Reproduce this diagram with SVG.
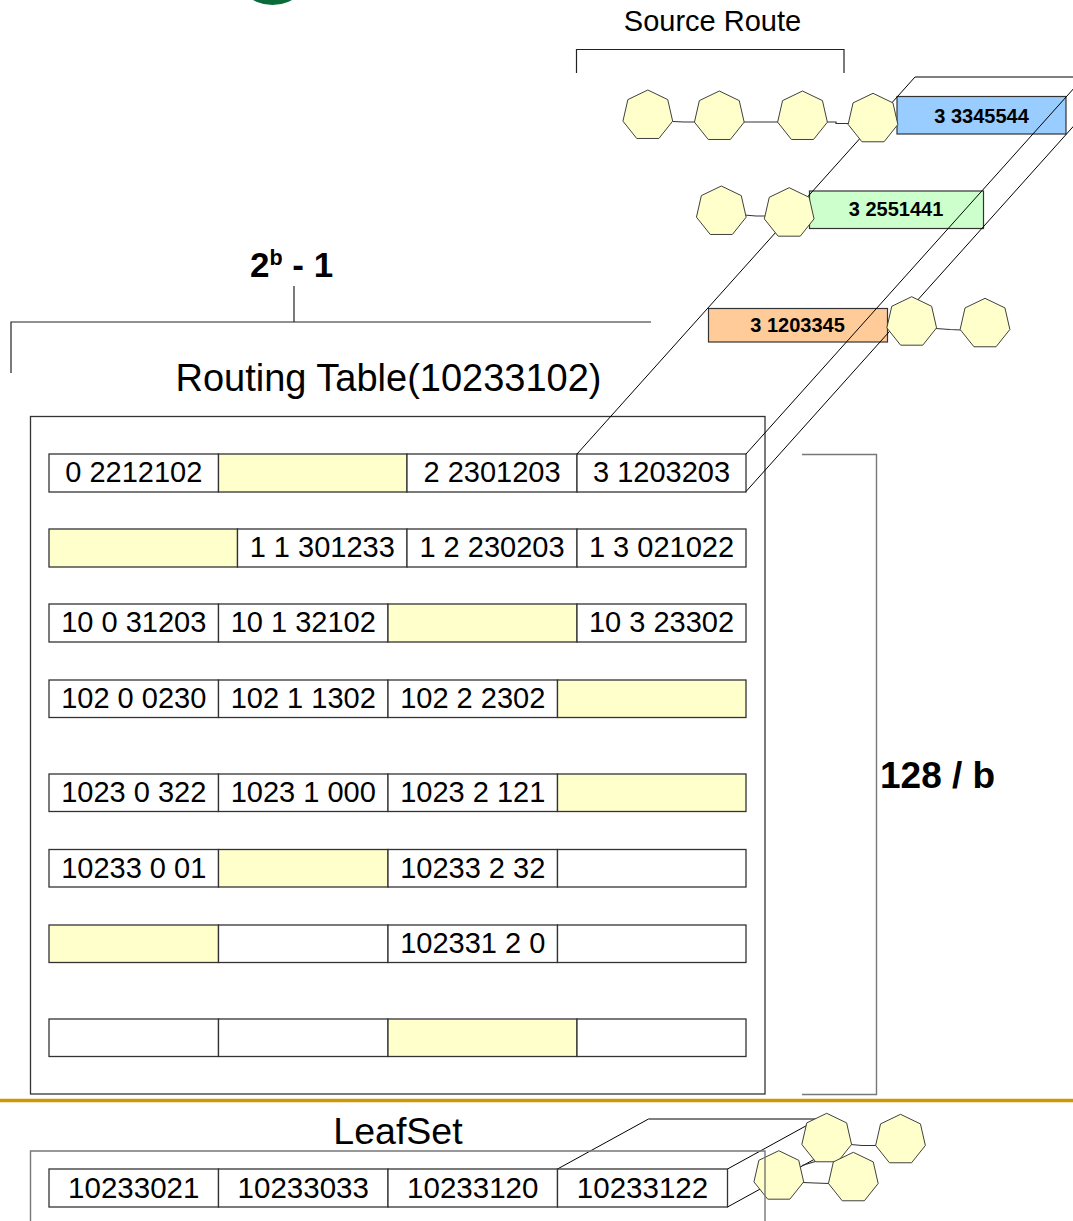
<svg xmlns="http://www.w3.org/2000/svg" width="1073" height="1221" viewBox="0 0 1073 1221">
  <style>
    .cell { fill: #ffffff; stroke: #333333; stroke-width: 1.3; }
    .free { fill: #FFFFCC; stroke: #333333; stroke-width: 1.3; }
    .t { font-family: "Liberation Sans", Arial, sans-serif; font-size: 29px; text-anchor: middle; fill: #000; }
    .lt { font-family: "Liberation Sans", Arial, sans-serif; font-size: 29.5px; text-anchor: middle; fill: #000; }
    .tb { font-family: "Liberation Sans", Arial, sans-serif; font-weight: bold; font-size: 20px; text-anchor: middle; fill: #000; }
    .title { font-family: "Liberation Sans", Arial, sans-serif; text-anchor: middle; fill: #000; }
    .big { font-family: "Liberation Sans", Arial, sans-serif; font-weight: bold; fill: #000; }
    .hept { fill: #FFFFCC; stroke: #404040; stroke-width: 1; }
    .wire { fill: none; stroke: #000; stroke-width: 1; }
    .link { fill: none; stroke: #333333; stroke-width: 1.2; }
    .brk { fill: none; stroke: #222222; stroke-width: 1.2; }
    .gray { fill: none; stroke: #777777; stroke-width: 1.4; }
  </style>
  <defs>
    <polygon id="hept" points="0,-25.5 19.94,-15.9 24.86,5.67 11.06,22.98 -11.06,22.98 -24.86,5.67 -19.94,-15.9"/>
  </defs>

  <rect width="1073" height="1221" fill="#ffffff"/>

  <!-- corner ornament -->
  <circle cx="272.5" cy="-35.5" r="40.5" fill="#0A6B3A"/>

  <!-- labels and brackets -->
  <g id="source-route-label">
    <text class="title" x="712.5" y="30.5" font-size="29">Source Route</text>
    <path class="brk" d="M576.5,73 V49.5 H844 V73"/>
  </g>
  <g id="columns-label">
    <text class="big" x="250" y="277" font-size="35">2<tspan dy="-12" font-size="21.5">b</tspan><tspan dy="12"> - 1</tspan></text>
    <path class="brk" d="M294,286 V322 M11,373 V322 H651"/>
  </g>
  <g id="rows-label">
    <path class="gray" d="M802,454.5 H876.5 V1094.5 H802"/>
    <text class="big" x="880" y="788" font-size="37">128 / b</text>
  </g>

  <!-- source route message slices -->
  <g id="slice-blue">
    <rect x="897" y="96.5" width="169" height="37.5" fill="#99CCFF" stroke="#333333" stroke-width="1.2"/>
    <text class="tb" x="981.5" y="122.5">3 3345544</text>
  </g>
  <g id="slice-green">
    <rect x="809.5" y="191" width="174" height="37.5" fill="#CCFFCC" stroke="#333333" stroke-width="1.2"/>
    <text class="tb" x="896" y="216">3 2551441</text>
  </g>
  <g id="slice-orange">
    <rect x="708.5" y="308.5" width="179" height="33.5" fill="#FFCC99" stroke="#333333" stroke-width="1.2"/>
    <text class="tb" x="797.5" y="331.5">3 1203345</text>
  </g>

  <!-- routing table -->
  <g id="routing-table">
    <text class="title" x="388.5" y="390.5" font-size="38">Routing Table(10233102)</text>
    <rect x="30.5" y="416.5" width="734.5" height="677.5" fill="none" stroke="#333333" stroke-width="1.3"/>

    <g id="row-0">
      <g id="r0c0"><rect class="cell" x="49" y="454" width="169.5" height="38"/><text class="t" x="133.75" y="482">0 2212102</text></g>
      <g id="r0c1"><rect class="free" x="218.5" y="454" width="188.5" height="38"/></g>
      <g id="r0c2"><rect class="cell" x="407" y="454" width="170" height="38"/><text class="t" x="492" y="482">2 2301203</text></g>
      <g id="r0c3"><rect class="cell" x="577" y="454" width="169" height="38"/><text class="t" x="661.5" y="482">3 1203203</text></g>
    </g>
    <g id="row-1">
      <g id="r1c0"><rect class="free" x="49" y="529" width="188.5" height="38"/></g>
      <g id="r1c1"><rect class="cell" x="237.5" y="529" width="169.5" height="38"/><text class="t" x="322.25" y="557">1 1 301233</text></g>
      <g id="r1c2"><rect class="cell" x="407" y="529" width="170" height="38"/><text class="t" x="492" y="557">1 2 230203</text></g>
      <g id="r1c3"><rect class="cell" x="577" y="529" width="169" height="38"/><text class="t" x="661.5" y="557">1 3 021022</text></g>
    </g>
    <g id="row-2">
      <g id="r2c0"><rect class="cell" x="49" y="604" width="169.5" height="38"/><text class="t" x="133.75" y="632">10 0 31203</text></g>
      <g id="r2c1"><rect class="cell" x="218.5" y="604" width="169.5" height="38"/><text class="t" x="303.25" y="632">10 1 32102</text></g>
      <g id="r2c2"><rect class="free" x="388" y="604" width="189" height="38"/></g>
      <g id="r2c3"><rect class="cell" x="577" y="604" width="169" height="38"/><text class="t" x="661.5" y="632">10 3 23302</text></g>
    </g>
    <g id="row-3">
      <g id="r3c0"><rect class="cell" x="49" y="680" width="169.5" height="37.5"/><text class="t" x="133.75" y="708">102 0 0230</text></g>
      <g id="r3c1"><rect class="cell" x="218.5" y="680" width="169.5" height="37.5"/><text class="t" x="303.25" y="708">102 1 1302</text></g>
      <g id="r3c2"><rect class="cell" x="388" y="680" width="169.5" height="37.5"/><text class="t" x="472.75" y="708">102 2 2302</text></g>
      <g id="r3c3"><rect class="free" x="557.5" y="680" width="188.5" height="37.5"/></g>
    </g>
    <g id="row-4">
      <g id="r4c0"><rect class="cell" x="49" y="774" width="169.5" height="37.5"/><text class="t" x="133.75" y="802">1023 0 322</text></g>
      <g id="r4c1"><rect class="cell" x="218.5" y="774" width="169.5" height="37.5"/><text class="t" x="303.25" y="802">1023 1 000</text></g>
      <g id="r4c2"><rect class="cell" x="388" y="774" width="169.5" height="37.5"/><text class="t" x="472.75" y="802">1023 2 121</text></g>
      <g id="r4c3"><rect class="free" x="557.5" y="774" width="188.5" height="37.5"/></g>
    </g>
    <g id="row-5">
      <g id="r5c0"><rect class="cell" x="49" y="849.5" width="169.5" height="37.5"/><text class="t" x="133.75" y="877.5">10233 0 01</text></g>
      <g id="r5c1"><rect class="free" x="218.5" y="849.5" width="169.5" height="37.5"/></g>
      <g id="r5c2"><rect class="cell" x="388" y="849.5" width="169.5" height="37.5"/><text class="t" x="472.75" y="877.5">10233 2 32</text></g>
      <g id="r5c3"><rect class="cell" x="557.5" y="849.5" width="188.5" height="37.5"/></g>
    </g>
    <g id="row-6">
      <g id="r6c0"><rect class="free" x="49" y="925" width="169.5" height="37.5"/></g>
      <g id="r6c1"><rect class="cell" x="218.5" y="925" width="169.5" height="37.5"/></g>
      <g id="r6c2"><rect class="cell" x="388" y="925" width="169.5" height="37.5"/><text class="t" x="472.75" y="953">102331 2 0</text></g>
      <g id="r6c3"><rect class="cell" x="557.5" y="925" width="188.5" height="37.5"/></g>
    </g>
    <g id="row-7">
      <g id="r7c0"><rect class="cell" x="49" y="1019" width="169.5" height="37.5"/></g>
      <g id="r7c1"><rect class="cell" x="218.5" y="1019" width="169.5" height="37.5"/></g>
      <g id="r7c2"><rect class="free" x="388" y="1019" width="189" height="37.5"/></g>
      <g id="r7c3"><rect class="cell" x="577" y="1019" width="169" height="37.5"/></g>
    </g>
  </g>

  <!-- extrusion of the last routing entry and of the last leaf -->
  <g id="extrusions">
    <path class="wire" d="M577,454 L915,77 H1090"/>
    <path class="wire" d="M746,454 L1084,77"/>
    <path class="wire" d="M746,491.5 L1084,114.5"/>
    <path class="wire" d="M557.5,1169 L648.5,1119 H818.5"/>
    <path class="wire" d="M727.5,1169 L818.5,1119"/>
    <path class="wire" d="M727.5,1207 L818.5,1157"/>
  </g>

  <!-- links between hops -->
  <g id="connectors">
    <polyline class="link" points="673,121.5 684,122 695,122"/>
    <polyline class="link" points="743,122 779,122"/>
    <polyline class="link" points="827,122 836,122 836,123.5 850,123.5"/>
    <polyline class="link" points="744,215 756,216 766,216"/>
    <polyline class="link" points="936,328.5 950,329.5 961,330"/>
    <polyline class="link" points="851,1144.5 862,1145.5 876,1145.5"/>
    <polyline class="link" points="803,1182.5 815,1183 829,1183.5"/>
    <polyline class="link" points="802,1165.5 817,1161"/>
  </g>

  <!-- hops -->
  <g id="hop-a1"><use href="#hept" class="hept" x="647.8" y="115.5"/></g>
  <g id="hop-a2"><use href="#hept" class="hept" x="719.3" y="116.5"/></g>
  <g id="hop-a3"><use href="#hept" class="hept" x="802.5" y="116.5"/></g>
  <g id="hop-a4"><use href="#hept" class="hept" x="873" y="118.8"/></g>
  <g id="hop-b1"><use href="#hept" class="hept" x="721.3" y="211.5"/></g>
  <g id="hop-b2"><use href="#hept" class="hept" x="789.2" y="213.2"/></g>
  <g id="hop-c1"><use href="#hept" class="hept" x="911.7" y="322.2"/></g>
  <g id="hop-c2"><use href="#hept" class="hept" x="985" y="323.8"/></g>
  <g id="leaf-h1"><use href="#hept" class="hept" x="826.7" y="1138.8"/></g>
  <g id="leaf-h2"><use href="#hept" class="hept" x="900.5" y="1139.8"/></g>
  <g id="leaf-h3"><use href="#hept" class="hept" x="778.8" y="1176.2"/></g>
  <g id="leaf-h4"><use href="#hept" class="hept" x="853.3" y="1177.8"/></g>

  <!-- divider -->
  <line x1="0" y1="1100.5" x2="1073" y2="1100.5" stroke="#CC9900" stroke-width="3.5"/>

  <!-- leaf set -->
  <g id="leafset">
    <text class="title" x="398" y="1144" font-size="37.5">LeafSet</text>
    <g id="l0"><rect class="cell" x="49" y="1169" width="169.5" height="38"/><text class="lt" x="133.75" y="1197.5">10233021</text></g>
    <g id="l1"><rect class="cell" x="218.5" y="1169" width="169.5" height="38"/><text class="lt" x="303.25" y="1197.5">10233033</text></g>
    <g id="l2"><rect class="cell" x="388" y="1169" width="169.5" height="38"/><text class="lt" x="472.75" y="1197.5">10233120</text></g>
    <g id="l3"><rect class="cell" x="557.5" y="1169" width="170" height="38"/><text class="lt" x="642.5" y="1197.5">10233122</text></g>
    <path class="gray" d="M30.5,1222 V1151 H765 V1222"/>
  </g>
</svg>
